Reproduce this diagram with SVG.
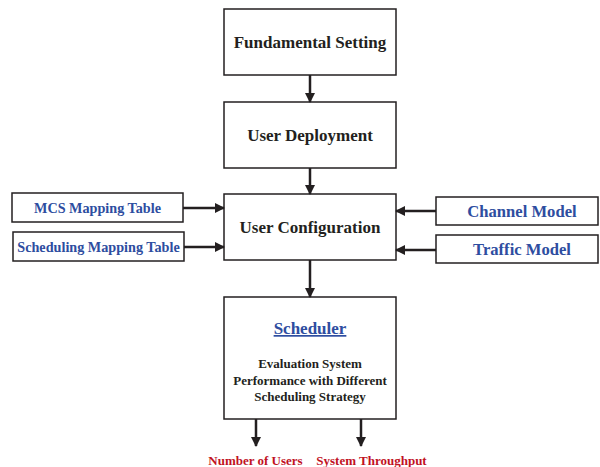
<svg xmlns="http://www.w3.org/2000/svg" width="600" height="467" viewBox="0 0 600 467">
  <style>
    .box { fill: #ffffff; stroke: #231f20; stroke-width: 1.5; }
    .t { font-family: "Liberation Serif", "Times New Roman", serif; font-weight: bold; text-anchor: middle; }
    .main { font-size: 17px; fill: #231f20; }
    .side { font-size: 14.2px; fill: #2e4da0; }
    .side2 { font-size: 16.6px; fill: #2e4da0; }
    .desc { font-size: 13px; fill: #231f20; }
    .out { font-size: 13px; fill: #c1121f; }
    .link { stroke: #231f20; stroke-width: 2.5; fill: none; marker-end: url(#arrow); }
  </style>
  <defs>
    <marker id="arrow" markerWidth="10" markerHeight="10" refX="9" refY="5" orient="auto" markerUnits="userSpaceOnUse">
      <path d="M0,0 L10,5 L0,10 Z" fill="#231f20"/>
    </marker>
  </defs>

  <g id="fundamental-setting">
    <rect class="box" x="224" y="9" width="172" height="66"/>
    <text class="t main" x="310" y="48">Fundamental Setting</text>
  </g>
  <g id="user-deployment">
    <rect class="box" x="224" y="102" width="172" height="66"/>
    <text class="t main" x="310" y="141">User Deployment</text>
  </g>
  <g id="user-configuration">
    <rect class="box" x="224" y="194" width="172" height="66"/>
    <text class="t main" x="310" y="233">User Configuration</text>
  </g>
  <g id="mcs-mapping-table">
    <rect class="box" x="12" y="193" width="171" height="29"/>
    <text class="t side" x="97.5" y="212.5">MCS Mapping Table</text>
  </g>
  <g id="scheduling-mapping-table">
    <rect class="box" x="13" y="232" width="171" height="29"/>
    <text class="t side" x="98.5" y="251.5">Scheduling Mapping Table</text>
  </g>
  <g id="channel-model">
    <rect class="box" x="436" y="197" width="162" height="28"/>
    <text class="t side2" x="522" y="217">Channel Model</text>
  </g>
  <g id="traffic-model">
    <rect class="box" x="436" y="235" width="162" height="28"/>
    <text class="t side2" x="522" y="255">Traffic Model</text>
  </g>
  <g id="scheduler">
    <rect class="box" x="224" y="297" width="172" height="122"/>
    <text class="t" x="310" y="334" style="font-size:17px;fill:#2e4da0;text-decoration:underline">Scheduler</text>
    <text class="t desc" x="310" y="368">Evaluation System</text>
    <text class="t desc" x="310" y="384.5">Performance with Different</text>
    <text class="t desc" x="310" y="401">Scheduling Strategy</text>
  </g>
  <g id="number-of-users">
    <text class="t out" x="255.5" y="465">Number of Users</text>
  </g>
  <g id="system-throughput">
    <text class="t out" x="371.5" y="465">System Throughput</text>
  </g>

  <g id="connectors">
    <line class="link" x1="310" y1="75" x2="310" y2="102"/>
    <line class="link" x1="310" y1="168" x2="310" y2="194"/>
    <line class="link" x1="310" y1="260" x2="310" y2="297"/>
    <line class="link" x1="183" y1="208" x2="224" y2="208"/>
    <line class="link" x1="184" y1="247" x2="224" y2="247"/>
    <line class="link" x1="436" y1="211" x2="396" y2="211"/>
    <line class="link" x1="436" y1="250" x2="396" y2="250"/>
    <line class="link" x1="256" y1="419" x2="256" y2="446"/>
    <line class="link" x1="361" y1="419" x2="361" y2="446"/>
  </g>
</svg>
